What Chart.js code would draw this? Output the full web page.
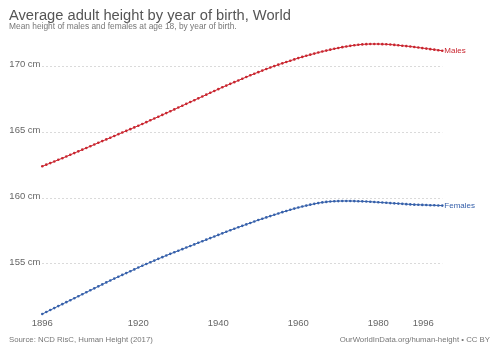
<!DOCTYPE html>
<html>
<head>
<meta charset="utf-8">
<script src="https://cdn.jsdelivr.net/npm/chart.js@4"></script>
<style>
  html, body { margin: 0; padding: 0; background: #fff; }
  #chart { display: block; }
</style>
</head>
<body>
<canvas id="chart" width="500" height="353"></canvas>
<script>
// years of birth, 1896..1996
const firstYear = 1896;
const lastYear = 1996;
const years = [];
for (let y = firstYear; y <= lastYear; y++) years.push(y);

// mean height at age 18 (cm)
const males = [
    162.43, 162.55, 162.67, 162.79, 162.92, 163.04, 163.17, 163.30, 163.43, 163.56,
    163.69, 163.82, 163.95, 164.08, 164.21, 164.34, 164.47, 164.60, 164.73, 164.86,
    164.99, 165.12, 165.25, 165.38, 165.51, 165.64, 165.78, 165.92, 166.06, 166.19,
    166.33, 166.47, 166.61, 166.75, 166.89, 167.03, 167.17, 167.31, 167.45, 167.59,
    167.73, 167.87, 168.01, 168.15, 168.29, 168.43, 168.56, 168.69, 168.82, 168.95,
    169.08, 169.21, 169.34, 169.46, 169.58, 169.70, 169.82, 169.93, 170.04, 170.15,
    170.25, 170.35, 170.45, 170.55, 170.65, 170.74, 170.83, 170.91, 170.99, 171.07,
    171.15, 171.22, 171.29, 171.36, 171.42, 171.48, 171.53, 171.58, 171.62, 171.66,
    171.69, 171.71, 171.72, 171.72, 171.72, 171.71, 171.70, 171.68, 171.65, 171.62,
    171.59, 171.56, 171.53, 171.49, 171.45, 171.41, 171.37, 171.33, 171.29, 171.25,
    171.21
];
const females = [
    151.20, 151.35, 151.50, 151.65, 151.80, 151.95, 152.10, 152.25, 152.40, 152.55,
    152.70, 152.85, 153.00, 153.15, 153.30, 153.45, 153.60, 153.75, 153.89, 154.03,
    154.17, 154.31, 154.45, 154.59, 154.73, 154.87, 155.00, 155.13, 155.26, 155.39,
    155.52, 155.65, 155.77, 155.89, 156.01, 156.13, 156.25, 156.37, 156.49, 156.61,
    156.73, 156.85, 156.97, 157.09, 157.21, 157.33, 157.45, 157.57, 157.68, 157.79,
    157.90, 158.01, 158.12, 158.23, 158.34, 158.44, 158.54, 158.64, 158.74, 158.84,
    158.94, 159.03, 159.12, 159.21, 159.29, 159.37, 159.44, 159.51, 159.57, 159.63,
    159.68, 159.72, 159.75, 159.77, 159.78, 159.79, 159.79, 159.79, 159.78, 159.77,
    159.76, 159.75, 159.73, 159.71, 159.69, 159.67, 159.65, 159.63, 159.61, 159.59,
    159.57, 159.55, 159.53, 159.51, 159.50, 159.49, 159.48, 159.47, 159.46, 159.45,
    159.44
];

const yTicks = [155, 160, 165, 170];
const xTicks = [1896, 1920, 1940, 1960, 1980, 1996];

const title = "Average adult height by year of birth, World";
const subtitle = "Mean height of males and females at age 18, by year of birth.";
const sourceText = "Source: NCD RisC, Human Height (2017)";
const creditText = "OurWorldInData.org/human-height \u2022 CC BY";

const maleColor = '#c9252f';
const femaleColor = '#3660aa';
const FONT = '"Liberation Sans", Arial, Helvetica, sans-serif';

const toPoints = (vals) => vals.map((v, i) => ({ x: years[i], y: v }));

// all the text round the plot, positioned from the chart's own scales
const owidText = {
    id: 'owidText',
    afterDraw(chart) {
        const ctx = chart.ctx;
        const xs = chart.scales.x;
        const ys = chart.scales.y;
        ctx.save();

        ctx.textBaseline = 'alphabetic';
        ctx.textAlign = 'left';
        ctx.fillStyle = '#555';
        ctx.font = '14.7px ' + FONT;
        ctx.fillText(title, 9, 19.5);
        ctx.fillStyle = '#777';
        ctx.font = '8.4px ' + FONT;
        ctx.fillText(subtitle, 9, 28.5);

        // y tick labels
        ctx.font = '9.5px ' + FONT;
        ctx.fillStyle = '#666';
        ctx.textAlign = 'right';
        ctx.textBaseline = 'middle';
        yTicks.forEach(t => {
            ctx.fillText(t + ' cm', 40.5, ys.getPixelForValue(t) - 2);
        });

        // x tick labels
        ctx.textAlign = 'center';
        xTicks.forEach((t, i) => {
            let px = xs.getPixelForValue(t);
            if (i === xTicks.length - 1) px -= 19;
            ctx.fillText(String(t), px, 323.5);
        });

        // end-of-line labels
        ctx.font = '8px ' + FONT;
        ctx.textAlign = 'left';
        const lastM = males[males.length - 1];
        const lastF = females[females.length - 1];
        ctx.fillStyle = maleColor;
        ctx.fillText('Males', xs.getPixelForValue(lastYear) + 2, ys.getPixelForValue(lastM));
        ctx.fillStyle = femaleColor;
        ctx.fillText('Females', xs.getPixelForValue(lastYear) + 2, ys.getPixelForValue(lastF));

        // footer
        ctx.fillStyle = '#777';
        ctx.font = '7.8px ' + FONT;
        ctx.textAlign = 'left';
        ctx.fillText(sourceText, 9, 339.5);
        ctx.textAlign = 'right';
        ctx.fillText(creditText, 490, 339.5);

        ctx.restore();
    }
};

const lineSet = (label, vals, color) => ({
    label,
    data: toPoints(vals),
    borderColor: color,
    backgroundColor: color,
    borderWidth: 1,
    pointRadius: 1.3,
    pointBorderWidth: 0,
    pointBackgroundColor: color,
    tension: 0,
    clip: false
});

new Chart(document.getElementById('chart'), {
    type: 'line',
    data: {
        datasets: [
            lineSet('Males', males, maleColor),
            lineSet('Females', females, femaleColor)
        ]
    },
    plugins: [owidText],
    options: {
        responsive: false,
        animation: false,
        events: [],
        layout: {
            padding: { left: 42.3, right: 57.7, top: 44, bottom: 39 }
        },
        plugins: {
            legend: { display: false },
            tooltip: { enabled: false },
            title: { display: false }
        },
        scales: {
            x: {
                type: 'linear',
                min: firstYear,
                max: lastYear,
                display: false
            },
            y: {
                type: 'linear',
                min: Math.min(...females),
                max: Math.max(...males),
                afterBuildTicks: (scale) => {
                    scale.ticks = yTicks.map(v => ({ value: v }));
                },
                afterFit: (scale) => { scale.width = 0; },
                ticks: { display: false },
                grid: {
                    drawTicks: false,
                    color: '#dadada',
                    lineWidth: 1
                },
                border: { display: false, dash: [2, 2] }
            }
        }
    }
});
</script>
</body>
</html>
